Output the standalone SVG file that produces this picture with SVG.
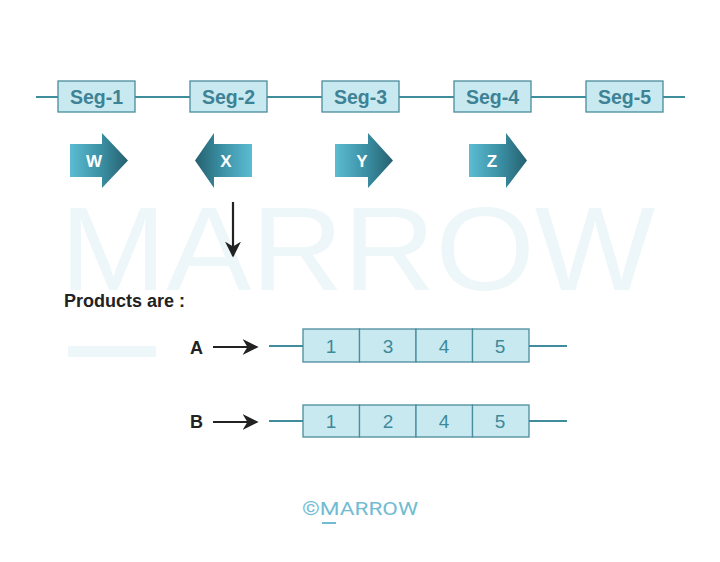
<svg xmlns="http://www.w3.org/2000/svg" width="720" height="562" viewBox="0 0 720 562">
<style>
.wm{font-family:"Liberation Sans",Arial,sans-serif;fill:#edf6f9}
.seg{fill:#c9e9f1;stroke:#4b8d9c;stroke-width:1.3}
.segt{font-family:"Liberation Sans",Arial,sans-serif;font-weight:bold;font-size:19.5px;fill:#3d8295;text-anchor:middle}
.ln{stroke:#3f8c9c;stroke-width:2;fill:none}
.at{font-family:"Liberation Sans",Arial,sans-serif;font-weight:bold;font-size:17px;fill:#ffffff;text-anchor:middle}
.num{font-family:"Liberation Sans",Arial,sans-serif;font-size:19px;fill:#3d8a9b;text-anchor:middle}
.lbl{font-family:"Liberation Sans",Arial,sans-serif;font-weight:bold;font-size:18px;fill:#222}
.blk{stroke:#222;stroke-width:2.2;fill:none}
</style>
<defs>
<linearGradient id="gr" x1="0" y1="0" x2="1" y2="0"><stop offset="0" stop-color="#5cbcd2"/><stop offset="0.55" stop-color="#3a8ea2"/><stop offset="1" stop-color="#25606f"/></linearGradient>
<linearGradient id="gl" x1="1" y1="0" x2="0" y2="0"><stop offset="0" stop-color="#5cbcd2"/><stop offset="0.55" stop-color="#3a8ea2"/><stop offset="1" stop-color="#25606f"/></linearGradient>
<marker id="ah2" viewBox="0 0 10 10" refX="9" refY="5" markerWidth="16" markerHeight="16" markerUnits="userSpaceOnUse" orient="auto"><path d="M0,0 L10,5 L0,10 L3,5 Z" fill="#222"/></marker>
</defs>
<rect width="720" height="562" fill="#ffffff"/>
<g id="watermark">
<text class="wm" x="60" y="290" font-size="118" textLength="595" lengthAdjust="spacingAndGlyphs">MARROW</text>
<rect x="68" y="346" width="88" height="11" fill="#edf6f9"/>
</g>
<g id="connectors">
<line class="ln" x1="36" y1="97" x2="685" y2="97"/>
<line class="blk" x1="233" y1="202" x2="233" y2="256" marker-end="url(#ah2)"/>
<line class="blk" x1="213" y1="347" x2="257" y2="347" marker-end="url(#ah2)"/>
<line class="blk" x1="213" y1="422" x2="257" y2="422" marker-end="url(#ah2)"/>
<line class="ln" x1="269" y1="346" x2="567" y2="346"/>
<line class="ln" x1="269" y1="421" x2="567" y2="421"/>
</g>
<g id="seg1"><rect class="seg" x="58" y="81" width="77" height="31"/><text class="segt" x="96.5" y="103.5">Seg-1</text></g>
<g id="seg2"><rect class="seg" x="190" y="81" width="77" height="31"/><text class="segt" x="228.5" y="103.5">Seg-2</text></g>
<g id="seg3"><rect class="seg" x="322" y="81" width="77" height="31"/><text class="segt" x="360.5" y="103.5">Seg-3</text></g>
<g id="seg4"><rect class="seg" x="454" y="81" width="77" height="31"/><text class="segt" x="492.5" y="103.5">Seg-4</text></g>
<g id="seg5"><rect class="seg" x="586" y="81" width="77" height="31"/><text class="segt" x="624.5" y="103.5">Seg-5</text></g>
<g id="arrowW"><polygon points="70,144 102,144 102,133 128,160.5 102,188 102,177 70,177" fill="url(#gr)"/><text class="at" x="94" y="167">W</text></g>
<g id="arrowX"><polygon points="252,144 214,144 214,133 195,160.5 214,188 214,177 252,177" fill="url(#gl)"/><text class="at" x="226" y="167">X</text></g>
<g id="arrowY"><polygon points="335,144 368,144 368,133 393,160.5 368,188 368,177 335,177" fill="url(#gr)"/><text class="at" x="362" y="167">Y</text></g>
<g id="arrowZ"><polygon points="469,144 506,144 506,133 527,160.5 506,188 506,177 469,177" fill="url(#gr)"/><text class="at" x="492" y="167">Z</text></g>
<g id="products"><text class="lbl" x="64" y="307" font-size="18.5">Products are :</text></g>
<g id="productA">
<text class="lbl" x="190" y="354">A</text>
<rect class="seg" x="303" y="329" width="56.5" height="33"/>
<rect class="seg" x="359.5" y="329" width="56.5" height="33"/>
<rect class="seg" x="416" y="329" width="56.5" height="33"/>
<rect class="seg" x="472.5" y="329" width="56.5" height="33"/>
<text class="num" x="331" y="353">1</text><text class="num" x="388" y="353">3</text><text class="num" x="444" y="353">4</text><text class="num" x="500" y="353">5</text>
</g>
<g id="productB">
<text class="lbl" x="190" y="428">B</text>
<rect class="seg" x="303" y="405" width="56.5" height="32"/>
<rect class="seg" x="359.5" y="405" width="56.5" height="32"/>
<rect class="seg" x="416" y="405" width="56.5" height="32"/>
<rect class="seg" x="472.5" y="405" width="56.5" height="32"/>
<text class="num" x="331" y="428">1</text><text class="num" x="388" y="428">2</text><text class="num" x="444" y="428">4</text><text class="num" x="500" y="428">5</text>
</g>
<g id="logo">
<text x="302" y="515" font-family="Roboto,'Liberation Sans',sans-serif" font-size="19" fill="#72bcd3" textLength="116" lengthAdjust="spacingAndGlyphs">©MARROW</text>
<rect x="322" y="522" width="14" height="2" fill="#72bcd3"/>
</g>
</svg>
